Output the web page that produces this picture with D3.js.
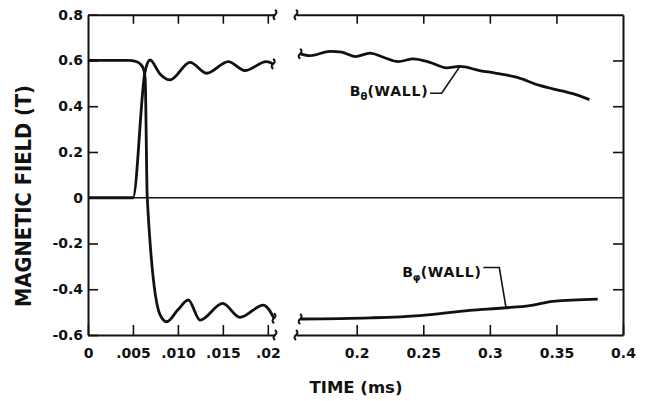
<!DOCTYPE html>
<html>
<head>
<meta charset="utf-8">
<script src="https://cdn.jsdelivr.net/npm/d3@7"></script>
<style>
body { margin: 0; background: #fff; }
text { font-family: "DejaVu Sans", "Liberation Sans", Arial, sans-serif; font-weight: bold; fill: #111; }
</style>
</head>
<body>
<div id="chart"></div>
<script>
var svgWidth = 646;
var svgHeight = 401;

// [time (ms), field (T)]
var thetaEarly = [[0, 0], [0.005, 0], [0.00633, 0.548], [0.0069, 0.602], [0.0080, 0.541], [0.00912, 0.515],
	[0.01135, 0.592], [0.0132, 0.544], [0.01561, 0.595], [0.01746, 0.556], [0.01983, 0.595], [0.0206, 0.585]];
var phiEarly = [[0, 0.6], [0.0045, 0.6], [0.0053, 0.596], [0.0058, 0.585], [0.0062, 0.56], [0.00636, 0.52],
	[0.00659, 0], [0.0080, -0.51], [0.00875, -0.542], [0.0100, -0.49], [0.01116, -0.447], [0.01246, -0.535],
	[0.01498, -0.462], [0.0169, -0.523], [0.01951, -0.469], [0.02069, -0.527]];
var thetaLate = [[0.1575, 0.629], [0.165, 0.621], [0.180, 0.640], [0.1888, 0.636], [0.1988, 0.617], [0.210, 0.632],
	[0.220, 0.614], [0.2312, 0.595], [0.2424, 0.607], [0.2549, 0.592], [0.2674, 0.568], [0.2774, 0.574],
	[0.2924, 0.556], [0.3049, 0.544], [0.3199, 0.527], [0.3373, 0.491], [0.3473, 0.476], [0.3623, 0.455], [0.3748, 0.429]];
var phiLate = [[0.1575, -0.53], [0.21, -0.525], [0.2474, -0.515], [0.2849, -0.492], [0.31, -0.482],
	[0.33, -0.472], [0.3473, -0.453], [0.381, -0.443]];

var yTicks = [0.8, 0.6, 0.4, 0.2, 0, -0.2, -0.4, -0.6];
var earlyTicks = [0, 0.005, 0.010, 0.015, 0.02];
var earlyTickLabels = ["0", ".005", ".010", ".015", ".02"];
var lateTicks = [0.2, 0.25, 0.3, 0.35, 0.4];
var lateTickLabels = ["0.2", "0.25", "0.3", "0.35", "0.4"];

var svg = d3.select("#chart")
	.append("svg")
	.attr("width", svgWidth)
	.attr("height", svgHeight);

var y = d3.scaleLinear().domain([-0.6, 0.8]).range([335, 14.7]);
var xEarly = d3.scaleLinear().domain([0, 0.0208]).range([88, 275]);
var xLate = d3.scaleLinear().domain([0.1544, 0.4]).range([296, 623]);

function styleAxis(g) {
	g.attr("font-size", null).attr("font-family", null);
	g.select(".domain").attr("stroke", "#111").attr("stroke-width", 2);
	g.selectAll(".tick line").attr("stroke", "#111").attr("stroke-width", 1.6);
	g.selectAll(".tick text").attr("font-size", 14).attr("fill", "#111");
}

// top axes
svg.append("g").attr("transform", `translate(0, ${y(0.8)})`)
	.call(d3.axisTop(xEarly).tickValues(earlyTicks.slice(1)).tickSizeInner(-9).tickSizeOuter(0).tickFormat(""))
	.call(styleAxis);
svg.append("g").attr("transform", `translate(0, ${y(0.8)})`)
	.call(d3.axisTop(xLate).tickValues(lateTicks.slice(0, 4)).tickSizeInner(-9).tickSizeOuter(0).tickFormat(""))
	.call(styleAxis);

// bottom axes
svg.append("g").attr("transform", `translate(0, ${y(-0.6)})`)
	.call(d3.axisBottom(xEarly).tickValues(earlyTicks).tickSizeInner(-10).tickSizeOuter(0).tickPadding(13)
		.tickFormat((d, i) => earlyTickLabels[i]))
	.call(styleAxis);
svg.append("g").attr("transform", `translate(0, ${y(-0.6)})`)
	.call(d3.axisBottom(xLate).tickValues(lateTicks).tickSizeInner(-10).tickSizeOuter(0).tickPadding(13)
		.tickFormat((d, i) => lateTickLabels[i]))
	.call(styleAxis);

// left and right axes
svg.append("g").attr("transform", `translate(${xEarly(0)}, 0)`)
	.call(d3.axisLeft(y).tickValues(yTicks).tickSizeInner(-10).tickSizeOuter(0).tickPadding(5)
		.tickFormat(d => d === 0 ? "0" : d.toFixed(1)))
	.call(styleAxis);
svg.append("g").attr("transform", `translate(${xLate(0.4)}, 0)`)
	.call(d3.axisRight(y).tickValues([0.6, 0.4, 0.2, -0.2, -0.4]).tickSizeInner(-10).tickSizeOuter(0).tickFormat(""))
	.call(styleAxis);

// zero line across both panels
svg.append("line")
	.attr("x1", xEarly(0)).attr("x2", xLate(0.4))
	.attr("y1", y(0)).attr("y2", y(0))
	.attr("stroke", "#111").attr("stroke-width", 1.6);

var lineEarly = d3.line().x(d => xEarly(d[0])).y(d => y(d[1])).curve(d3.curveMonotoneX);
var lineLate = d3.line().x(d => xLate(d[0])).y(d => y(d[1])).curve(d3.curveMonotoneX);

[thetaEarly, phiEarly].forEach(function(s) {
	svg.append("path").datum(s).attr("d", lineEarly)
		.attr("fill", "none").attr("stroke", "#111").attr("stroke-width", 2.8).attr("stroke-linejoin", "round");
});
[thetaLate, phiLate].forEach(function(s) {
	svg.append("path").datum(s).attr("d", lineLate)
		.attr("fill", "none").attr("stroke", "#111").attr("stroke-width", 2.8).attr("stroke-linejoin", "round");
});

// break squiggles
function squiggle(px, py) {
	svg.append("path")
		.attr("d", `M${px},${py - 5} q 3,2.5 0,5 t 0,5`)
		.attr("fill", "none").attr("stroke", "#111").attr("stroke-width", 2);
}
squiggle(xEarly.range()[1], y(0.8));
squiggle(xEarly.range()[1], y(-0.6));
squiggle(xLate.range()[0], y(0.8));
squiggle(xLate.range()[0], y(-0.6));
var lastTheta = thetaEarly[thetaEarly.length - 1];
var lastPhi = phiEarly[phiEarly.length - 1];
squiggle(xEarly(lastTheta[0]), y(lastTheta[1]));
squiggle(xEarly(lastPhi[0]), y(lastPhi[1]));
squiggle(xLate(thetaLate[0][0]), y(thetaLate[0][1]));
squiggle(xLate(phiLate[0][0]), y(phiLate[0][1]));

// curve labels with leader lines
function curveLabel(leader, sub, labelAt) {
	svg.append("path")
		.attr("d", d3.line().x(d => xLate(d[0])).y(d => y(d[1]))(leader))
		.attr("fill", "none").attr("stroke", "#111").attr("stroke-width", 1.6);
	var t = svg.append("text")
		.attr("x", xLate(labelAt[0]))
		.attr("y", y(labelAt[1]))
		.attr("text-anchor", "end")
		.attr("font-size", 14);
	t.append("tspan").text("B");
	t.append("tspan").attr("font-size", 10).attr("dy", 4).text(sub);
	t.append("tspan").attr("dy", -4).attr("letter-spacing", 0.8).text("(WALL)");
}
curveLabel([[0.2551, 0.4566], [0.2638, 0.4566], [0.2775, 0.574]], "\u03b8", [0.2539, 0.4466]);
curveLabel([[0.2951, -0.305], [0.3071, -0.305], [0.3122, -0.4837]], "\u03c6", [0.2939, -0.347]);

// axis titles
svg.append("text")
	.attr("transform", `translate(31, 196) rotate(-90)`)
	.attr("text-anchor", "middle")
	.attr("font-size", 22)
	.attr("textLength", 222)
	.attr("lengthAdjust", "spacingAndGlyphs")
	.text("MAGNETIC FIELD (T)");

svg.append("text")
	.attr("x", 356)
	.attr("y", 393)
	.attr("text-anchor", "middle")
	.attr("font-size", 16.5)
	.text("TIME (ms)");
</script>
</body>
</html>
